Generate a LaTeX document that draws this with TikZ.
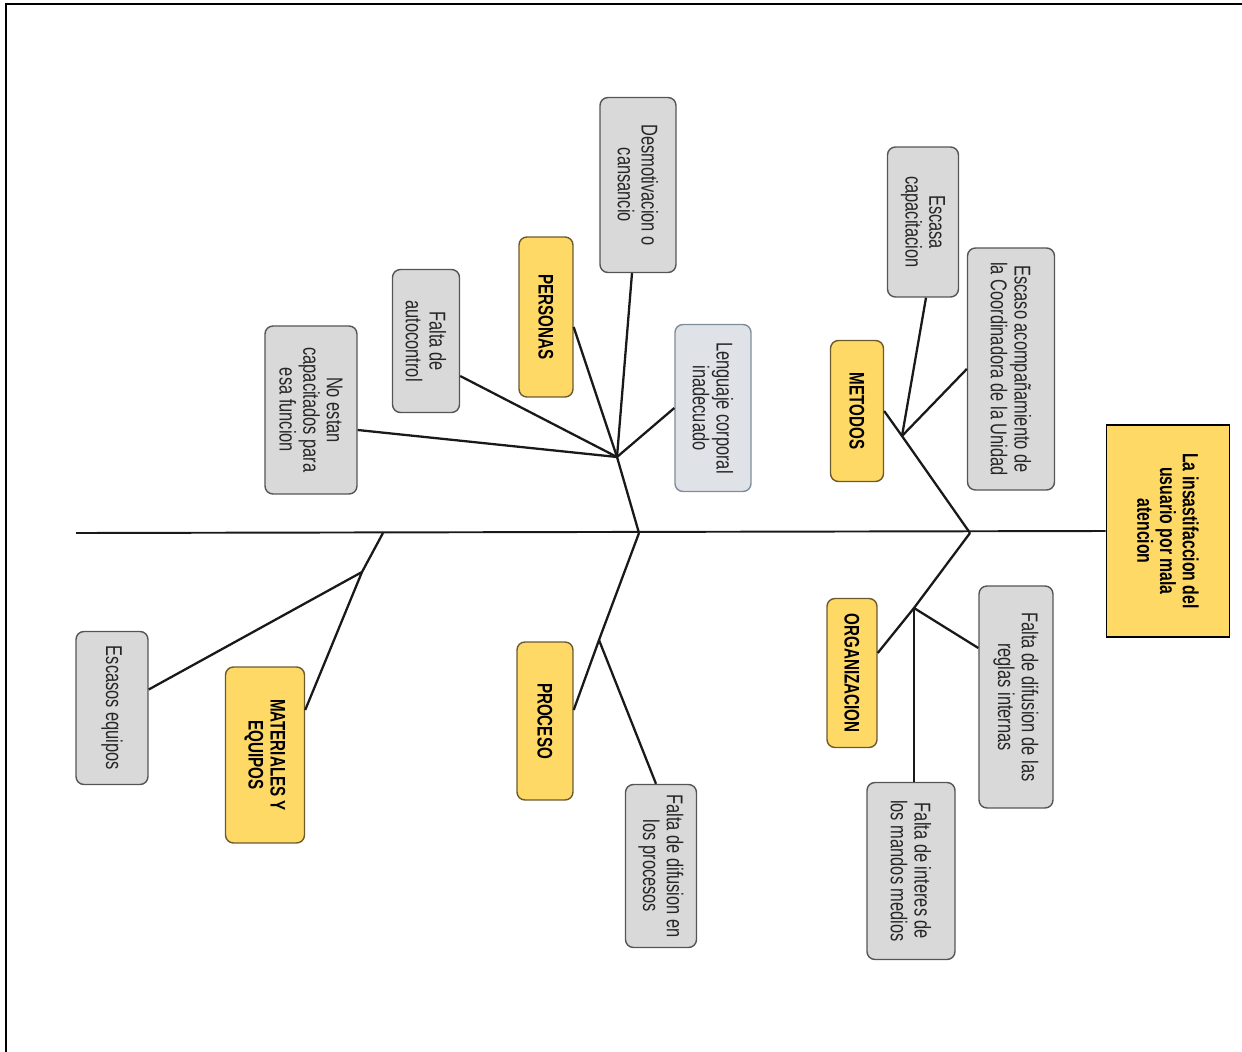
\documentclass[tikz,border=0pt]{standalone}
\usepackage{fontspec}
\setmainfont{Liberation Sans}[FakeStretch=0.72]
\usepackage{tikz}
\usepackage{xcolor}
\usetikzlibrary{
  arrows.meta,
  positioning,
  shapes,
  calc
}
\definecolor{cinza}{HTML}{D9D9D9}
\definecolor{cinzaborda}{HTML}{555555}
\definecolor{amarelo}{HTML}{FFD966}
\definecolor{amareloborda}{HTML}{6B5A2E}
\definecolor{azulado}{HTML}{DFE2E6}
\definecolor{azuladoborda}{HTML}{7F8C99}

\tikzset{
  causa/.style={draw=cinzaborda, fill=cinza, rounded corners=4.5pt, line width=0.8pt,
    rotate=-90, align=center, inner sep=0pt, text=black!85,
    font=\fontsize{13}{13.5}\selectfont},
  categoria/.style={draw=amareloborda, fill=amarelo, rounded corners=4.5pt, line width=0.8pt,
    rotate=-90, align=center, inner sep=0pt,
    font=\fontsize{12}{12.5}\selectfont\bfseries},
  efeito/.style={draw=black, fill=amarelo, line width=0.9pt, rotate=-90, align=center,
    inner sep=0pt, font=\fontsize{12.5}{13}\selectfont\bfseries},
  osso/.style={line width=1.3pt, black!90}
}

\begin{document}
\begin{tikzpicture}[x=0.02cm, y=-0.02cm]
        % Fixa o tamanho da figura
        \useasboundingbox (0,0) rectangle (1242,1052);

        % Moldura
        \draw[line width=1.6pt] (6,1052) -- (6,4) -- (1242,4);

        % Efeito
        \node[efeito, minimum width=4.24cm, minimum height=2.46cm] (efeito) at (1168,531)
          {La insastifaccion del\\ usuario por mala\\ atencion};

        % Categorias
        \node[categoria, minimum width=3.2cm, minimum height=1.08cm] (pers) at (546,317) {PERSONAS};
        \node[categoria, minimum width=2.82cm, minimum height=1.06cm] (met) at (857,411) {METODOS};
        \node[categoria, minimum width=2.98cm, minimum height=1.0cm] (org) at (852,673) {ORGANIZACION};
        \node[categoria, minimum width=3.16cm, minimum height=1.12cm] (proc) at (545,721) {PROCESO};
        \node[categoria, minimum width=3.52cm, minimum height=1.58cm] (mat) at (265,755) {MATERIALES Y\\ EQUIPOS};

        % Causas
        \node[causa, minimum width=3.5cm, minimum height=1.52cm] (desm) at (638,185) {Desmotivacion o\\ cansancio};
        \node[causa, draw=azuladoborda, fill=azulado, minimum width=3.34cm, minimum height=1.52cm] (leng) at (713,408)
          {Lenguaje corporal\\ inadecuado};
        \node[causa, minimum width=2.86cm, minimum height=1.34cm] (auto) at (426,341) {Falta de\\ autocontrol};
        \node[causa, minimum width=3.36cm, minimum height=1.84cm] (noes) at (311,410)
          {No estan\\ capacitados para\\ esa funcion};
        \node[causa, minimum width=3.0cm, minimum height=1.42cm] (escasa) at (923,222) {Escasa\\ capacitacion};
        \node[causa, minimum width=4.84cm, minimum height=1.74cm] (acomp) at (1011,369)
          {Escaso acompañamiento de\\ la Coordinadora de la Unidad};
        \node[causa, minimum width=4.44cm, minimum height=1.48cm] (reglas) at (1016,697)
          {Falta de difusion de las\\ reglas internas};
        \node[causa, minimum width=3.54cm, minimum height=1.76cm] (interes) at (911,871)
          {Falta de interes de\\ los mandos medios};
        \node[causa, minimum width=3.26cm, minimum height=1.42cm] (fproc) at (661,866)
          {Falta de difusion en\\ los procesos};
        \node[causa, minimum width=3.06cm, minimum height=1.44cm] (equip) at (112,708) {Escasos equipos};

        % Pontos da espinha
        \coordinate (cola) at (76,533);
        \coordinate (c1) at (639,533);
        \coordinate (c2) at (970,533);
        \coordinate (c3) at (383,533);
        \coordinate (j1) at (617,457);
        \coordinate (j2) at (902,436);
        \coordinate (j3) at (914,608);
        \coordinate (j4) at (599,640);
        \coordinate (j5) at (362,572);

        % Espinha principal
        \draw[osso, line width=1.1pt] (cola) -- (efeito.south);

        % PERSONAS
        \draw[osso] (c1) -- (j1) -- ([yshift=-0.2cm]pers.north);
        \draw[osso] (j1) -- ([xshift=-0.12cm]desm.east);
        \draw[osso] (j1) -- (leng.south);
        \draw[osso] (j1) -- ([yshift=-0.7cm]auto.north);
        \draw[osso] (j1) -- ([yshift=-0.4cm]noes.north);

        % METODOS
        \draw[osso] (c2) -- (j2) -- (met.north);
        \draw[osso] (j2) -- ([xshift=0.06cm]escasa.east);
        \draw[osso] (j2) -- (acomp.south);

        % ORGANIZACION
        \draw[osso] (c2) -- (j3) -- ([yshift=0.4cm]org.north);
        \draw[osso] (j3) -- ([yshift=0.98cm]reglas.south);
        \draw[osso] (j3) -- (j3 |- interes.west);

        % PROCESO
        \draw[osso] (c1) -- (j4) -- ([yshift=0.22cm]proc.north);
        \draw[osso] (j4) -- ([xshift=-0.1cm]fproc.west);

        % MATERIALES Y EQUIPOS
        \draw[osso] (c3) -- (j5) -- ([yshift=0.9cm]mat.north);
        \draw[osso] (j5) -- ([yshift=0.37cm]equip.north);
    \end{tikzpicture}
\end{document}
